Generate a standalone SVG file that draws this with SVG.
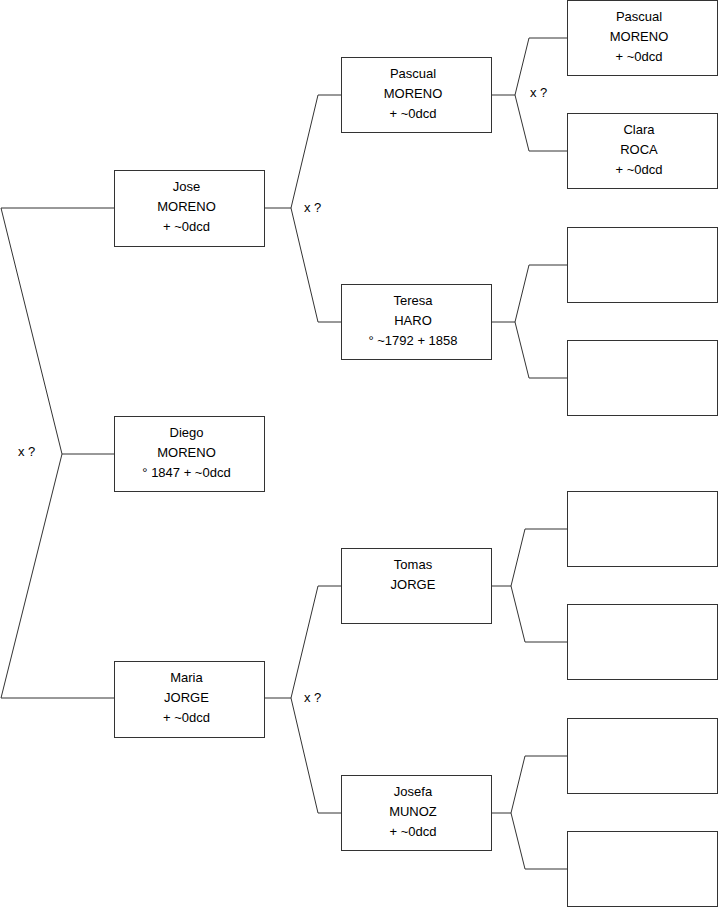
<svg xmlns="http://www.w3.org/2000/svg" width="719" height="908" viewBox="0 0 719 908">
<style>
.box{fill:#fff;stroke:#333;stroke-width:1}
.c{fill:none;stroke:#333;stroke-width:1}
text{font-family:"Liberation Sans",Arial,sans-serif;font-size:13px;fill:#000}
.t{text-anchor:middle}
</style>
<rect width="719" height="908" fill="#fff"/>
<g id="connectors">
<polyline class="c" points="114,208 1,208 62,454 114,454"/>
<polyline class="c" points="62,454 1,698 114,698"/>
<polyline class="c" points="341,95 318,95 291,208 265,208"/>
<polyline class="c" points="291,208 318,322 341,322"/>
<polyline class="c" points="567,38 529,38 515,95 491,95"/>
<polyline class="c" points="515,95 529,151 567,151"/>
<polyline class="c" points="567,265 529,265 515,322 491,322"/>
<polyline class="c" points="515,322 529,378 567,378"/>
<polyline class="c" points="341,586 318,586 291,698 265,698"/>
<polyline class="c" points="291,698 318,813 341,813"/>
<polyline class="c" points="567,529 525,529 511,586 491,586"/>
<polyline class="c" points="511,586 525,642 567,642"/>
<polyline class="c" points="567,756 525,756 511,813 491,813"/>
<polyline class="c" points="511,813 525,869 567,869"/>
<text x="18" y="456">x ?</text>
<text x="304" y="212">x ?</text>
<text x="530" y="97">x ?</text>
<text x="304" y="702">x ?</text>
</g>
<g id="jose"><rect class="box" x="114.5" y="170.5" width="150" height="76"/>
<text class="t" x="186.5" y="191">Jose</text><text class="t" x="186.5" y="211">MORENO</text><text class="t" x="186.5" y="231">+ ~0dcd</text></g>
<g id="diego"><rect class="box" x="114.5" y="416.5" width="150" height="75"/>
<text class="t" x="186.5" y="437">Diego</text><text class="t" x="186.5" y="457">MORENO</text><text class="t" x="186.5" y="477">° 1847 + ~0dcd</text></g>
<g id="maria"><rect class="box" x="114.5" y="661.5" width="150" height="76"/>
<text class="t" x="186.5" y="682">Maria</text><text class="t" x="186.5" y="702">JORGE</text><text class="t" x="186.5" y="722">+ ~0dcd</text></g>
<g id="pascual1"><rect class="box" x="341.5" y="57.5" width="150" height="75"/>
<text class="t" x="413" y="78">Pascual</text><text class="t" x="413" y="98">MORENO</text><text class="t" x="413" y="118">+ ~0dcd</text></g>
<g id="teresa"><rect class="box" x="341.5" y="284.5" width="150" height="75"/>
<text class="t" x="413" y="305">Teresa</text><text class="t" x="413" y="325">HARO</text><text class="t" x="413" y="345">° ~1792 + 1858</text></g>
<g id="tomas"><rect class="box" x="341.5" y="548.5" width="150" height="75"/>
<text class="t" x="413" y="569">Tomas</text><text class="t" x="413" y="589">JORGE</text></g>
<g id="josefa"><rect class="box" x="341.5" y="775.5" width="150" height="75"/>
<text class="t" x="413" y="796">Josefa</text><text class="t" x="413" y="816">MUNOZ</text><text class="t" x="413" y="836">+ ~0dcd</text></g>
<g id="pascual2"><rect class="box" x="567.5" y="0.5" width="150" height="75"/>
<text class="t" x="639" y="21">Pascual</text><text class="t" x="639" y="41">MORENO</text><text class="t" x="639" y="61">+ ~0dcd</text></g>
<g id="clara"><rect class="box" x="567.5" y="113.5" width="150" height="75"/>
<text class="t" x="639" y="134">Clara</text><text class="t" x="639" y="154">ROCA</text><text class="t" x="639" y="174">+ ~0dcd</text></g>
<g id="e1"><rect class="box" x="567.5" y="227.5" width="150" height="75"/></g>
<g id="e2"><rect class="box" x="567.5" y="340.5" width="150" height="75"/></g>
<g id="e3"><rect class="box" x="567.5" y="491.5" width="150" height="75"/></g>
<g id="e4"><rect class="box" x="567.5" y="604.5" width="150" height="75"/></g>
<g id="e5"><rect class="box" x="567.5" y="718.5" width="150" height="75"/></g>
<g id="e6"><rect class="box" x="567.5" y="831.5" width="150" height="75"/></g>
</svg>
